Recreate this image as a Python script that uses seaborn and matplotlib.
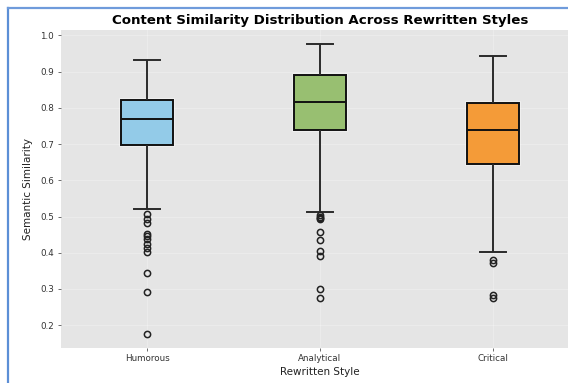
import matplotlib
matplotlib.use("Agg")
import matplotlib.pyplot as plt
import matplotlib.patheffects as pe
from matplotlib.lines import Line2D
import pandas as pd
import seaborn as sns

# Semantic similarity scores per rewritten style (sorted samples)
humorous_scores = [
    0.177, 0.292, 0.343, 0.402, 0.413, 0.425, 0.437, 0.446, 0.453, 0.482,
    0.494, 0.506, 0.520, 0.698, 0.705, 0.709, 0.716, 0.722, 0.727, 0.735,
    0.739, 0.746, 0.751, 0.757, 0.761, 0.766, 0.770, 0.773, 0.779, 0.781,
    0.787, 0.790, 0.796, 0.799, 0.804, 0.807, 0.812, 0.815, 0.819, 0.822,
    0.828, 0.837, 0.842, 0.853, 0.857, 0.868, 0.872, 0.884, 0.890, 0.903,
    0.911, 0.924, 0.932,
]
analytical_scores = [
    0.274, 0.301, 0.390, 0.405, 0.435, 0.456, 0.494, 0.497, 0.500, 0.503,
    0.512, 0.738, 0.745, 0.750, 0.758, 0.765, 0.773, 0.780, 0.790, 0.795,
    0.805, 0.810, 0.817, 0.824, 0.828, 0.839, 0.843, 0.852, 0.856, 0.867,
    0.870, 0.880, 0.883, 0.890, 0.898, 0.902, 0.913, 0.917, 0.928, 0.933,
    0.943, 0.950, 0.959, 0.965, 0.975,
]
critical_scores = [
    0.275, 0.283, 0.372, 0.379, 0.402, 0.644, 0.667, 0.690, 0.705, 0.725,
    0.739, 0.753, 0.768, 0.785, 0.800, 0.813, 0.839, 0.860, 0.890, 0.916,
    0.944,
]

styles = ["Humorous", "Analytical", "Critical"]
box_colors = ["#93CBE8", "#98BF71", "#F49B38"]

df = pd.DataFrame({
    "Rewritten Style": (["Humorous"] * len(humorous_scores)
                        + ["Analytical"] * len(analytical_scores)
                        + ["Critical"] * len(critical_scores)),
    "Semantic Similarity": humorous_scores + analytical_scores + critical_scores,
})

plt.rcParams["font.family"] = ["DejaVu Sans"]

fig = plt.figure(figsize=(5.68, 3.83), dpi=100)
fig.patch.set_facecolor("white")
ax = fig.add_axes([60.5 / 568, 1 - 348 / 383, 519 / 568, 318 / 383])
ax.set_facecolor("#E5E5E5")

sns.boxplot(
    data=df, x="Rewritten Style", y="Semantic Similarity",
    hue="Rewritten Style", order=styles, hue_order=styles,
    palette=box_colors, saturation=1, width=0.3, linewidth=1.4,
    linecolor="#2a2a2a", fliersize=4.5, legend=False, ax=ax,
    flierprops=dict(marker="o", markerfacecolor="none",
                    markeredgecolor="#222222", markeredgewidth=1.1),
    medianprops=dict(color="#111111", linewidth=1.4),
    boxprops=dict(edgecolor="#111111", linewidth=1.4),
)

# faint light rim around the boxes
for patch in ax.patches:
    patch.set_path_effects([pe.Stroke(linewidth=2.6, foreground="white", alpha=0.5),
                            pe.Normal()])

ax.set_xlim(-0.5, 2.5)
ax.grid(True, color="white", alpha=0.25, linewidth=0.8)
ax.set_axisbelow(True)
for s in ax.spines.values():
    s.set_visible(False)
ax.tick_params(axis="both", labelsize=6.3, colors="#555555", length=2.5, width=0.6,
               labelcolor="#333333", pad=2)
ax.set_title("Content Similarity Distribution Across Rewritten Styles",
             fontsize=9.6, fontweight="bold", pad=4)
ax.set_xlabel("Rewritten Style", fontsize=7.5, color="#222222", labelpad=3)
ax.set_ylabel("Semantic Similarity", fontsize=7.5, color="#222222", labelpad=5)

# frame along the left and top edges
fig.add_artist(Line2D([8.3 / 568, 8.3 / 568], [0, 1 - 7.5 / 383],
                      transform=fig.transFigure, color="#5C8FD6", linewidth=1.6))
fig.add_artist(Line2D([8.3 / 568, 1], [1 - 7.5 / 383, 1 - 7.5 / 383],
                      transform=fig.transFigure, color="#6F9BDB", linewidth=1.6))

fig.savefig("out.png", dpi=100)
